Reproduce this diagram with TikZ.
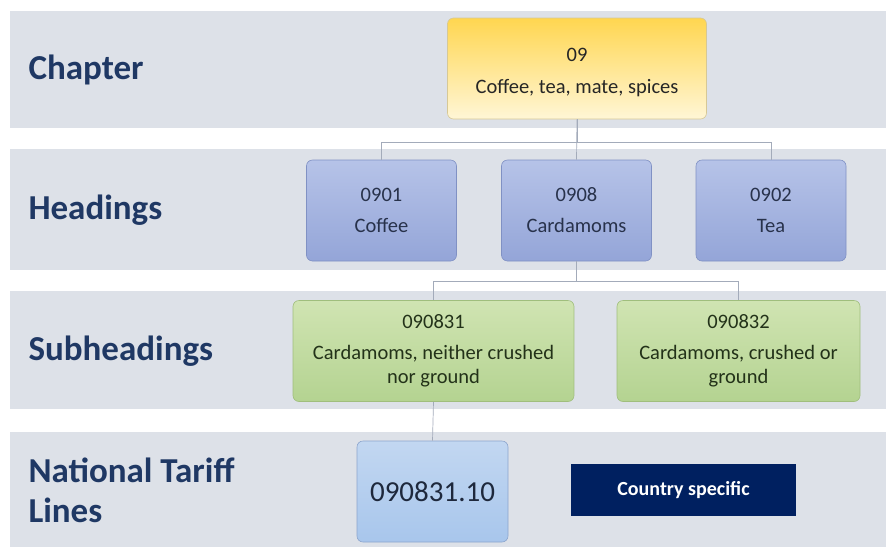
\documentclass[tikz,border=0pt]{standalone}
\usepackage{fontspec}
\setmainfont{Carlito}
\definecolor{bandgray}{HTML}{DDE1E8}
\definecolor{labelnavy}{HTML}{1F3864}
\definecolor{linkgray}{HTML}{A3ABBA}
\definecolor{darknavy}{HTML}{002060}
\begin{document}
\begin{tikzpicture}[x=1pt, y=-1pt,
  band/.style={fill=bandgray},
  level/.style={anchor=west, text=labelnavy, align=left,
    font=\fontsize{35}{40}\selectfont\bfseries},
  box/.style={rounded corners=6pt, align=center, inner sep=0pt,
    minimum height=101pt, line width=0.6pt,
    font=\fontsize{20.5}{24}\selectfont},
  chapbox/.style={box, top color={rgb,255:red,255;green,214;blue,80},
    bottom color={rgb,255:red,255;green,246;blue,214},
    draw={rgb,255:red,214;green,200;blue,150}, text=black!85},
  headbox/.style={box, top color={rgb,255:red,182;green,195;blue,232},
    bottom color={rgb,255:red,148;green,165;blue,216},
    draw={rgb,255:red,128;green,145;blue,196}, text={rgb,255:red,40;green,50;blue,75},
    minimum width=150pt},
  subbox/.style={box, top color={rgb,255:red,208;green,228;blue,178},
    bottom color={rgb,255:red,180;green,211;blue,145},
    draw={rgb,255:red,160;green,190;blue,125}, text={rgb,255:red,35;green,50;blue,25}},
  linebox/.style={box, top color={rgb,255:red,194;green,215;blue,241},
    bottom color={rgb,255:red,168;green,198;blue,236},
    draw={rgb,255:red,140;green,165;blue,205}, text={rgb,255:red,30;green,40;blue,60},
    minimum width=151pt, font=\fontsize{29}{34}\selectfont},
  link/.style={draw=linkgray, line width=0.7pt}]
  \useasboundingbox (0,0) rectangle (886,547);
  % bands
  \fill[band] (10,11) rectangle (886,128);
  \fill[band] (10,149) rectangle (886,270);
  \fill[band] (10,291) rectangle (886,409);
  \fill[band] (10,432) rectangle (886,547);
  % level labels
  \node[level] (lchap) at (25,70) {Chapter};
  \node[level] (lhead) at (25,210) {Headings};
  \node[level] (lsub) at (25,351) {Subheadings};
  \node[level] (lnat) at (25,490) {National Tariff\\Lines};
  % boxes
  \node[chapbox, minimum width=259pt] (chap) at (577,68.5) {\rule{0pt}{22pt}09\\[8pt]Coffee, tea, mate, spices};
  \node[headbox] (hcof) at (381.5,210.5) {0901\\[7pt]Coffee};
  \node[headbox] (hcar) at (576.5,210.5) {0908\\[7pt]Cardamoms};
  \node[headbox] (htea) at (771,210.5) {0902\\[7pt]Tea};
  \node[subbox, minimum width=281pt] (sub1) at (433.5,351) {090831\\[7pt]Cardamoms, neither crushed\\nor ground};
  \node[subbox, minimum width=243pt] (sub2) at (738.5,351) {090832\\[7pt]Cardamoms, crushed or\\ground};
  \node[linebox] (tl) at (432.5,491.5) {090831.10};
  \node[fill=darknavy, text=white, minimum width=225pt, minimum height=52pt,
    font=\fontsize{20}{24}\selectfont\bfseries] (cs) at (683.5,490) {Country specific};
  % connectors
  \draw[link] (chap.south) -- ++(0,23) -| (hcof.north);
  \draw[link] (chap.south) -- ++(0,23) -| (htea.north);
  \draw[link] (chap.south) -- (hcar.north);
  \draw[link] (hcar.south) -- ++(0,20.5) -| (sub1.north);
  \draw[link] (hcar.south) -- ++(0,20.5) -| (sub2.north);
  \draw[link] (sub1.south) -- (tl.north);
\end{tikzpicture}
\end{document}
